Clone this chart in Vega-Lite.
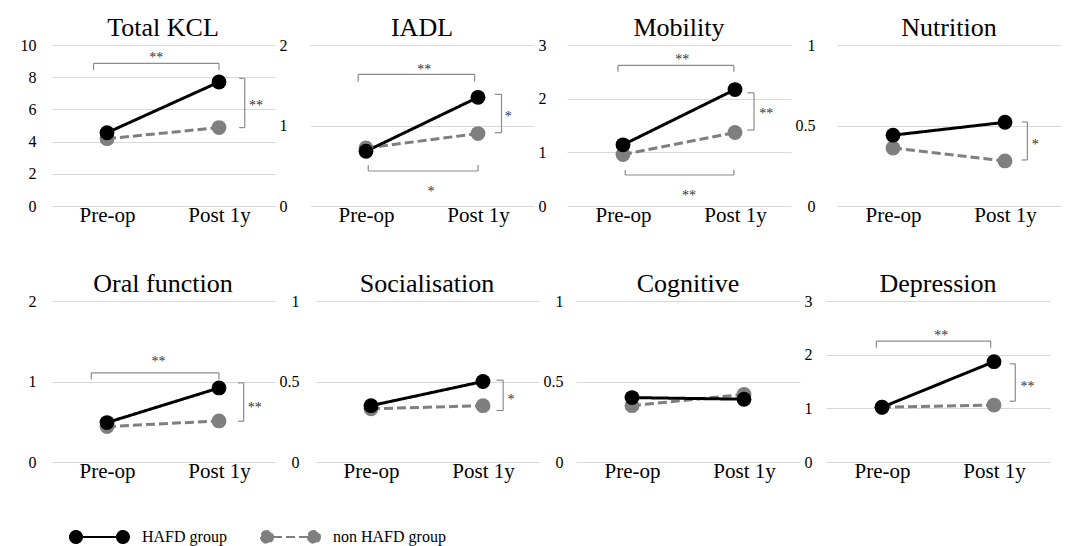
{
  "$schema": "https://vega.github.io/schema/vega-lite/v6.json",
  "padding": {"left": 20, "top": 15, "right": 0, "bottom": 0},
  "background": "#ffffff",
  "config": {
    "view": {"stroke": null},
    "font": "Liberation Serif",
    "title": {"font": "Liberation Serif", "fontSize": 26, "fontWeight": "normal", "color": "#000000", "offset": -4, "baseline": "bottom", "anchor": "middle"},
    "axisX": {"labelFont": "Liberation Serif", "labelColor": "#000000", "labelFontSize": 21, "labelAngle": 0, "labelPadding": -2, "grid": false, "ticks": false, "domain": false, "title": null},
    "legend": {"labelFont": "Liberation Serif", "labelFontSize": 16, "labelColor": "#000000"}
  },
  "datasets": {
    "scores": [
      {"panel": "Total KCL", "group": "non HAFD group", "time": "Pre-op", "value": 4.18},
      {"panel": "Total KCL", "group": "non HAFD group", "time": "Post 1y", "value": 4.87},
      {"panel": "Total KCL", "group": "HAFD group", "time": "Pre-op", "value": 4.55},
      {"panel": "Total KCL", "group": "HAFD group", "time": "Post 1y", "value": 7.70},
      {"panel": "IADL", "group": "non HAFD group", "time": "Pre-op", "value": 0.72},
      {"panel": "IADL", "group": "non HAFD group", "time": "Post 1y", "value": 0.90},
      {"panel": "IADL", "group": "HAFD group", "time": "Pre-op", "value": 0.68},
      {"panel": "IADL", "group": "HAFD group", "time": "Post 1y", "value": 1.35},
      {"panel": "Mobility", "group": "non HAFD group", "time": "Pre-op", "value": 0.96},
      {"panel": "Mobility", "group": "non HAFD group", "time": "Post 1y", "value": 1.37},
      {"panel": "Mobility", "group": "HAFD group", "time": "Pre-op", "value": 1.14},
      {"panel": "Mobility", "group": "HAFD group", "time": "Post 1y", "value": 2.17},
      {"panel": "Nutrition", "group": "non HAFD group", "time": "Pre-op", "value": 0.36},
      {"panel": "Nutrition", "group": "non HAFD group", "time": "Post 1y", "value": 0.28},
      {"panel": "Nutrition", "group": "HAFD group", "time": "Pre-op", "value": 0.44},
      {"panel": "Nutrition", "group": "HAFD group", "time": "Post 1y", "value": 0.52},
      {"panel": "Oral function", "group": "non HAFD group", "time": "Pre-op", "value": 0.44},
      {"panel": "Oral function", "group": "non HAFD group", "time": "Post 1y", "value": 0.51},
      {"panel": "Oral function", "group": "HAFD group", "time": "Pre-op", "value": 0.49},
      {"panel": "Oral function", "group": "HAFD group", "time": "Post 1y", "value": 0.92},
      {"panel": "Socialisation", "group": "non HAFD group", "time": "Pre-op", "value": 0.33},
      {"panel": "Socialisation", "group": "non HAFD group", "time": "Post 1y", "value": 0.35},
      {"panel": "Socialisation", "group": "HAFD group", "time": "Pre-op", "value": 0.35},
      {"panel": "Socialisation", "group": "HAFD group", "time": "Post 1y", "value": 0.50},
      {"panel": "Cognitive", "group": "non HAFD group", "time": "Pre-op", "value": 0.35},
      {"panel": "Cognitive", "group": "non HAFD group", "time": "Post 1y", "value": 0.42},
      {"panel": "Cognitive", "group": "HAFD group", "time": "Pre-op", "value": 0.40},
      {"panel": "Cognitive", "group": "HAFD group", "time": "Post 1y", "value": 0.39},
      {"panel": "Depression", "group": "non HAFD group", "time": "Pre-op", "value": 1.02},
      {"panel": "Depression", "group": "non HAFD group", "time": "Post 1y", "value": 1.06},
      {"panel": "Depression", "group": "HAFD group", "time": "Pre-op", "value": 1.02},
      {"panel": "Depression", "group": "HAFD group", "time": "Post 1y", "value": 1.87}
    ],
    "brackets": [
      {"panel": "Total KCL", "x": 0.88, "x2": 2.0, "y": 8.86, "y2": 8.86},
      {"panel": "Total KCL", "x": 0.88, "x2": 0.88, "y": 8.86, "y2": 8.45},
      {"panel": "Total KCL", "x": 2.0, "x2": 2.0, "y": 8.86, "y2": 8.45},
      {"panel": "Total KCL", "x": 2.23, "x2": 2.23, "y": 7.93, "y2": 4.87},
      {"panel": "Total KCL", "x": 2.18, "x2": 2.23, "y": 7.93, "y2": 7.93},
      {"panel": "Total KCL", "x": 2.18, "x2": 2.23, "y": 4.87, "y2": 4.87},
      {"panel": "IADL", "x": 0.93, "x2": 1.97, "y": 1.636, "y2": 1.636},
      {"panel": "IADL", "x": 0.93, "x2": 0.93, "y": 1.636, "y2": 1.545},
      {"panel": "IADL", "x": 1.97, "x2": 1.97, "y": 1.636, "y2": 1.545},
      {"panel": "IADL", "x": 2.21, "x2": 2.21, "y": 1.387, "y2": 0.911},
      {"panel": "IADL", "x": 2.15, "x2": 2.21, "y": 1.387, "y2": 1.387},
      {"panel": "IADL", "x": 2.15, "x2": 2.21, "y": 0.911, "y2": 0.911},
      {"panel": "IADL", "x": 1.02, "x2": 2.0, "y": 0.435, "y2": 0.435},
      {"panel": "IADL", "x": 1.02, "x2": 1.02, "y": 0.435, "y2": 0.509},
      {"panel": "IADL", "x": 2.0, "x2": 2.0, "y": 0.435, "y2": 0.509},
      {"panel": "Mobility", "x": 0.955, "x2": 1.99, "y": 2.62, "y2": 2.62},
      {"panel": "Mobility", "x": 0.955, "x2": 0.955, "y": 2.62, "y2": 2.5},
      {"panel": "Mobility", "x": 1.99, "x2": 1.99, "y": 2.62, "y2": 2.5},
      {"panel": "Mobility", "x": 2.17, "x2": 2.17, "y": 2.11, "y2": 1.416},
      {"panel": "Mobility", "x": 2.11, "x2": 2.17, "y": 2.11, "y2": 2.11},
      {"panel": "Mobility", "x": 2.11, "x2": 2.17, "y": 1.416, "y2": 1.416},
      {"panel": "Mobility", "x": 1.02, "x2": 1.99, "y": 0.578, "y2": 0.578},
      {"panel": "Mobility", "x": 1.02, "x2": 1.02, "y": 0.578, "y2": 0.67},
      {"panel": "Mobility", "x": 1.99, "x2": 1.99, "y": 0.578, "y2": 0.67},
      {"panel": "Nutrition", "x": 2.2, "x2": 2.2, "y": 0.522, "y2": 0.286},
      {"panel": "Nutrition", "x": 2.15, "x2": 2.2, "y": 0.522, "y2": 0.522},
      {"panel": "Nutrition", "x": 2.15, "x2": 2.2, "y": 0.286, "y2": 0.286},
      {"panel": "Oral function", "x": 0.86, "x2": 2.0, "y": 1.108, "y2": 1.108},
      {"panel": "Oral function", "x": 0.86, "x2": 0.86, "y": 1.108, "y2": 1.025},
      {"panel": "Oral function", "x": 2.0, "x2": 2.0, "y": 1.108, "y2": 1.025},
      {"panel": "Oral function", "x": 2.22, "x2": 2.22, "y": 0.983, "y2": 0.506},
      {"panel": "Oral function", "x": 2.17, "x2": 2.22, "y": 0.983, "y2": 0.983},
      {"panel": "Oral function", "x": 2.17, "x2": 2.22, "y": 0.506, "y2": 0.506},
      {"panel": "Socialisation", "x": 2.18, "x2": 2.18, "y": 0.508, "y2": 0.32},
      {"panel": "Socialisation", "x": 2.12, "x2": 2.18, "y": 0.508, "y2": 0.508},
      {"panel": "Socialisation", "x": 2.12, "x2": 2.18, "y": 0.32, "y2": 0.32},
      {"panel": "Depression", "x": 0.95, "x2": 1.97, "y": 2.253, "y2": 2.253},
      {"panel": "Depression", "x": 0.95, "x2": 0.95, "y": 2.253, "y2": 2.128},
      {"panel": "Depression", "x": 1.97, "x2": 1.97, "y": 2.253, "y2": 2.128},
      {"panel": "Depression", "x": 2.19, "x2": 2.19, "y": 1.83, "y2": 1.133},
      {"panel": "Depression", "x": 2.14, "x2": 2.19, "y": 1.83, "y2": 1.83},
      {"panel": "Depression", "x": 2.14, "x2": 2.19, "y": 1.133, "y2": 1.133}
    ],
    "stars": [
      {"panel": "Total KCL", "x": 1.44, "y": 9.42, "label": "**"},
      {"panel": "Total KCL", "x": 2.33, "y": 6.45, "label": "**"},
      {"panel": "IADL", "x": 1.52, "y": 1.74, "label": "**"},
      {"panel": "IADL", "x": 2.27, "y": 1.16, "label": "*"},
      {"panel": "IADL", "x": 1.58, "y": 0.228, "label": "*"},
      {"panel": "Mobility", "x": 1.53, "y": 2.8, "label": "**"},
      {"panel": "Mobility", "x": 2.28, "y": 1.78, "label": "**"},
      {"panel": "Mobility", "x": 1.59, "y": 0.26, "label": "**"},
      {"panel": "Nutrition", "x": 2.27, "y": 0.404, "label": "*"},
      {"panel": "Oral function", "x": 1.46, "y": 1.295, "label": "**"},
      {"panel": "Oral function", "x": 2.32, "y": 0.722, "label": "**"},
      {"panel": "Socialisation", "x": 2.25, "y": 0.409, "label": "*"},
      {"panel": "Depression", "x": 1.53, "y": 2.414, "label": "**"},
      {"panel": "Depression", "x": 2.3, "y": 1.475, "label": "**"}
    ]
  },
  "concat": [
    {
      "spacing": 4,
      "hconcat": [
        {
          "title": "Total KCL", "width": 224, "height": 161,
          "layer": [
            {
              "data": {"name": "scores"}, "transform": [{"filter": "datum.panel === 'Total KCL'"}],
              "encoding": {
                "x": {"field": "time", "type": "ordinal", "sort": ["Pre-op", "Post 1y"], "scale": {"type": "point", "padding": 0.5}, "axis": {"title": null}},
                "y": {"field": "value", "type": "quantitative", "scale": {"domain": [0, 10], "nice": false}, "axis": {"values": [0, 2, 4, 6, 8, 10], "format": "~r", "labelPadding": 15, "labelFont": "Liberation Serif", "labelFontSize": 16, "labelColor": "#000000", "grid": true, "gridColor": "#d9d9d9", "ticks": false, "domain": false, "title": null}},
                "color": {"field": "group", "type": "nominal", "scale": {"domain": ["HAFD group", "non HAFD group"], "range": ["#000000", "#7f7f7f"]}, "legend": {"title": " ", "titleOrient": "left", "titlePadding": 17, "titleFontSize": 16, "orient": "bottom", "offset": 48, "direction": "horizontal", "symbolType": "M-1,0A1,1,0,1,0,1,0A1,1,0,1,0,-1,0ZM1,0L6.83,0M6.83,0A1,1,0,1,0,8.83,0A1,1,0,1,0,6.83,0Z", "symbolSize": 144, "symbolStrokeWidth": 2, "labelOffset": 58, "columnPadding": 30, "encode": {"symbols": {"update": {"fill": {"scale": "color", "field": "value"}, "stroke": {"scale": "color", "field": "value"}}}}}},
                "strokeDash": {"field": "group", "type": "nominal", "scale": {"domain": ["HAFD group", "non HAFD group"], "range": [[1, 0], [9, 4]]}}
              },
              "layer": [
                {"mark": {"type": "line", "strokeWidth": 3}},
                {"mark": {"type": "point", "filled": true, "shape": "circle", "size": 220, "opacity": 1, "strokeDash": [1, 0]}}
              ]
            },
            {
              "layer": [
                {"data": {"name": "brackets"}, "transform": [{"filter": "datum.panel === 'Total KCL'"}], "mark": {"type": "rule", "color": "#8c8c8c", "strokeWidth": 1.2},
                 "encoding": {"x": {"field": "x", "type": "quantitative", "scale": {"domain": [0.5, 2.5]}, "axis": null}, "x2": {"field": "x2"}, "y": {"field": "y", "type": "quantitative", "scale": {"domain": [0, 10], "nice": false}, "axis": {"values": [0, 2, 4, 6, 8, 10], "format": "~r", "labelPadding": 15, "labelFont": "Liberation Serif", "labelFontSize": 16, "labelColor": "#000000", "grid": true, "gridColor": "#d9d9d9", "ticks": false, "domain": false, "title": null}}, "y2": {"field": "y2"}}},
                {"data": {"name": "stars"}, "transform": [{"filter": "datum.panel === 'Total KCL'"}], "mark": {"type": "text", "font": "Liberation Serif", "fontSize": 14, "color": "#333333", "baseline": "middle", "dy": 4},
                 "encoding": {"x": {"field": "x", "type": "quantitative", "scale": {"domain": [0.5, 2.5]}, "axis": null}, "y": {"field": "y", "type": "quantitative", "scale": {"domain": [0, 10], "nice": false}, "axis": {"values": [0, 2, 4, 6, 8, 10], "format": "~r", "labelPadding": 15, "labelFont": "Liberation Serif", "labelFontSize": 16, "labelColor": "#000000", "grid": true, "gridColor": "#d9d9d9", "ticks": false, "domain": false, "title": null}}, "text": {"field": "label"}}}
              ]
            }
          ],
          "resolve": {"scale": {"x": "independent"}}
        },
        {
          "title": "IADL", "width": 224, "height": 161,
          "layer": [
            {
              "data": {"name": "scores"}, "transform": [{"filter": "datum.panel === 'IADL'"}],
              "encoding": {
                "x": {"field": "time", "type": "ordinal", "sort": ["Pre-op", "Post 1y"], "scale": {"type": "point", "padding": 0.5}, "axis": {"title": null}},
                "y": {"field": "value", "type": "quantitative", "scale": {"domain": [0, 2], "nice": false}, "axis": {"values": [0, 1, 2], "format": "~r", "labelPadding": 23, "labelFont": "Liberation Serif", "labelFontSize": 16, "labelColor": "#000000", "grid": true, "gridColor": "#d9d9d9", "ticks": false, "domain": false, "title": null}},
                "color": {"field": "group", "type": "nominal", "scale": {"domain": ["HAFD group", "non HAFD group"], "range": ["#000000", "#7f7f7f"]}},
                "strokeDash": {"field": "group", "type": "nominal", "scale": {"domain": ["HAFD group", "non HAFD group"], "range": [[1, 0], [9, 4]]}}
              },
              "layer": [
                {"mark": {"type": "line", "strokeWidth": 3}},
                {"mark": {"type": "point", "filled": true, "shape": "circle", "size": 220, "opacity": 1, "strokeDash": [1, 0]}}
              ]
            },
            {
              "layer": [
                {"data": {"name": "brackets"}, "transform": [{"filter": "datum.panel === 'IADL'"}], "mark": {"type": "rule", "color": "#8c8c8c", "strokeWidth": 1.2},
                 "encoding": {"x": {"field": "x", "type": "quantitative", "scale": {"domain": [0.5, 2.5]}, "axis": null}, "x2": {"field": "x2"}, "y": {"field": "y", "type": "quantitative", "scale": {"domain": [0, 2], "nice": false}, "axis": {"values": [0, 1, 2], "format": "~r", "labelPadding": 23, "labelFont": "Liberation Serif", "labelFontSize": 16, "labelColor": "#000000", "grid": true, "gridColor": "#d9d9d9", "ticks": false, "domain": false, "title": null}}, "y2": {"field": "y2"}}},
                {"data": {"name": "stars"}, "transform": [{"filter": "datum.panel === 'IADL'"}], "mark": {"type": "text", "font": "Liberation Serif", "fontSize": 14, "color": "#333333", "baseline": "middle", "dy": 4},
                 "encoding": {"x": {"field": "x", "type": "quantitative", "scale": {"domain": [0.5, 2.5]}, "axis": null}, "y": {"field": "y", "type": "quantitative", "scale": {"domain": [0, 2], "nice": false}, "axis": {"values": [0, 1, 2], "format": "~r", "labelPadding": 23, "labelFont": "Liberation Serif", "labelFontSize": 16, "labelColor": "#000000", "grid": true, "gridColor": "#d9d9d9", "ticks": false, "domain": false, "title": null}}, "text": {"field": "label"}}}
              ]
            }
          ],
          "resolve": {"scale": {"x": "independent"}}
        },
        {
          "title": "Mobility", "width": 224, "height": 161,
          "layer": [
            {
              "data": {"name": "scores"}, "transform": [{"filter": "datum.panel === 'Mobility'"}],
              "encoding": {
                "x": {"field": "time", "type": "ordinal", "sort": ["Pre-op", "Post 1y"], "scale": {"type": "point", "padding": 0.5}, "axis": {"title": null}},
                "y": {"field": "value", "type": "quantitative", "scale": {"domain": [0, 3], "nice": false}, "axis": {"values": [0, 1, 2, 3], "format": "~r", "labelPadding": 21, "labelFont": "Liberation Serif", "labelFontSize": 16, "labelColor": "#000000", "grid": true, "gridColor": "#d9d9d9", "ticks": false, "domain": false, "title": null}},
                "color": {"field": "group", "type": "nominal", "scale": {"domain": ["HAFD group", "non HAFD group"], "range": ["#000000", "#7f7f7f"]}},
                "strokeDash": {"field": "group", "type": "nominal", "scale": {"domain": ["HAFD group", "non HAFD group"], "range": [[1, 0], [9, 4]]}}
              },
              "layer": [
                {"mark": {"type": "line", "strokeWidth": 3}},
                {"mark": {"type": "point", "filled": true, "shape": "circle", "size": 220, "opacity": 1, "strokeDash": [1, 0]}}
              ]
            },
            {
              "layer": [
                {"data": {"name": "brackets"}, "transform": [{"filter": "datum.panel === 'Mobility'"}], "mark": {"type": "rule", "color": "#8c8c8c", "strokeWidth": 1.2},
                 "encoding": {"x": {"field": "x", "type": "quantitative", "scale": {"domain": [0.5, 2.5]}, "axis": null}, "x2": {"field": "x2"}, "y": {"field": "y", "type": "quantitative", "scale": {"domain": [0, 3], "nice": false}, "axis": {"values": [0, 1, 2, 3], "format": "~r", "labelPadding": 21, "labelFont": "Liberation Serif", "labelFontSize": 16, "labelColor": "#000000", "grid": true, "gridColor": "#d9d9d9", "ticks": false, "domain": false, "title": null}}, "y2": {"field": "y2"}}},
                {"data": {"name": "stars"}, "transform": [{"filter": "datum.panel === 'Mobility'"}], "mark": {"type": "text", "font": "Liberation Serif", "fontSize": 14, "color": "#333333", "baseline": "middle", "dy": 4},
                 "encoding": {"x": {"field": "x", "type": "quantitative", "scale": {"domain": [0.5, 2.5]}, "axis": null}, "y": {"field": "y", "type": "quantitative", "scale": {"domain": [0, 3], "nice": false}, "axis": {"values": [0, 1, 2, 3], "format": "~r", "labelPadding": 21, "labelFont": "Liberation Serif", "labelFontSize": 16, "labelColor": "#000000", "grid": true, "gridColor": "#d9d9d9", "ticks": false, "domain": false, "title": null}}, "text": {"field": "label"}}}
              ]
            }
          ],
          "resolve": {"scale": {"x": "independent"}}
        },
        {
          "title": "Nutrition", "width": 224, "height": 161,
          "layer": [
            {
              "data": {"name": "scores"}, "transform": [{"filter": "datum.panel === 'Nutrition'"}],
              "encoding": {
                "x": {"field": "time", "type": "ordinal", "sort": ["Pre-op", "Post 1y"], "scale": {"type": "point", "padding": 0.5}, "axis": {"title": null}},
                "y": {"field": "value", "type": "quantitative", "scale": {"domain": [0, 1], "nice": false}, "axis": {"values": [0, 0.5, 1], "format": "~r", "labelPadding": 22, "labelFont": "Liberation Serif", "labelFontSize": 16, "labelColor": "#000000", "grid": true, "gridColor": "#d9d9d9", "ticks": false, "domain": false, "title": null}},
                "color": {"field": "group", "type": "nominal", "scale": {"domain": ["HAFD group", "non HAFD group"], "range": ["#000000", "#7f7f7f"]}},
                "strokeDash": {"field": "group", "type": "nominal", "scale": {"domain": ["HAFD group", "non HAFD group"], "range": [[1, 0], [9, 4]]}}
              },
              "layer": [
                {"mark": {"type": "line", "strokeWidth": 3}},
                {"mark": {"type": "point", "filled": true, "shape": "circle", "size": 220, "opacity": 1, "strokeDash": [1, 0]}}
              ]
            },
            {
              "layer": [
                {"data": {"name": "brackets"}, "transform": [{"filter": "datum.panel === 'Nutrition'"}], "mark": {"type": "rule", "color": "#8c8c8c", "strokeWidth": 1.2},
                 "encoding": {"x": {"field": "x", "type": "quantitative", "scale": {"domain": [0.5, 2.5]}, "axis": null}, "x2": {"field": "x2"}, "y": {"field": "y", "type": "quantitative", "scale": {"domain": [0, 1], "nice": false}, "axis": {"values": [0, 0.5, 1], "format": "~r", "labelPadding": 22, "labelFont": "Liberation Serif", "labelFontSize": 16, "labelColor": "#000000", "grid": true, "gridColor": "#d9d9d9", "ticks": false, "domain": false, "title": null}}, "y2": {"field": "y2"}}},
                {"data": {"name": "stars"}, "transform": [{"filter": "datum.panel === 'Nutrition'"}], "mark": {"type": "text", "font": "Liberation Serif", "fontSize": 14, "color": "#333333", "baseline": "middle", "dy": 4},
                 "encoding": {"x": {"field": "x", "type": "quantitative", "scale": {"domain": [0.5, 2.5]}, "axis": null}, "y": {"field": "y", "type": "quantitative", "scale": {"domain": [0, 1], "nice": false}, "axis": {"values": [0, 0.5, 1], "format": "~r", "labelPadding": 22, "labelFont": "Liberation Serif", "labelFontSize": 16, "labelColor": "#000000", "grid": true, "gridColor": "#d9d9d9", "ticks": false, "domain": false, "title": null}}, "text": {"field": "label"}}}
              ]
            }
          ],
          "resolve": {"scale": {"x": "independent"}}
        }
      ]
    },
    {
      "spacing": 4,
      "hconcat": [
        {
          "title": "Oral function", "width": 224, "height": 161,
          "layer": [
            {
              "data": {"name": "scores"}, "transform": [{"filter": "datum.panel === 'Oral function'"}],
              "encoding": {
                "x": {"field": "time", "type": "ordinal", "sort": ["Pre-op", "Post 1y"], "scale": {"type": "point", "padding": 0.5}, "axis": {"title": null}},
                "y": {"field": "value", "type": "quantitative", "scale": {"domain": [0, 2], "nice": false}, "axis": {"values": [0, 1, 2], "format": "~r", "labelPadding": 15, "labelFont": "Liberation Serif", "labelFontSize": 16, "labelColor": "#000000", "grid": true, "gridColor": "#d9d9d9", "ticks": false, "domain": false, "title": null}},
                "color": {"field": "group", "type": "nominal", "scale": {"domain": ["HAFD group", "non HAFD group"], "range": ["#000000", "#7f7f7f"]}},
                "strokeDash": {"field": "group", "type": "nominal", "scale": {"domain": ["HAFD group", "non HAFD group"], "range": [[1, 0], [9, 4]]}}
              },
              "layer": [
                {"mark": {"type": "line", "strokeWidth": 3}},
                {"mark": {"type": "point", "filled": true, "shape": "circle", "size": 220, "opacity": 1, "strokeDash": [1, 0]}}
              ]
            },
            {
              "layer": [
                {"data": {"name": "brackets"}, "transform": [{"filter": "datum.panel === 'Oral function'"}], "mark": {"type": "rule", "color": "#8c8c8c", "strokeWidth": 1.2},
                 "encoding": {"x": {"field": "x", "type": "quantitative", "scale": {"domain": [0.5, 2.5]}, "axis": null}, "x2": {"field": "x2"}, "y": {"field": "y", "type": "quantitative", "scale": {"domain": [0, 2], "nice": false}, "axis": {"values": [0, 1, 2], "format": "~r", "labelPadding": 15, "labelFont": "Liberation Serif", "labelFontSize": 16, "labelColor": "#000000", "grid": true, "gridColor": "#d9d9d9", "ticks": false, "domain": false, "title": null}}, "y2": {"field": "y2"}}},
                {"data": {"name": "stars"}, "transform": [{"filter": "datum.panel === 'Oral function'"}], "mark": {"type": "text", "font": "Liberation Serif", "fontSize": 14, "color": "#333333", "baseline": "middle", "dy": 4},
                 "encoding": {"x": {"field": "x", "type": "quantitative", "scale": {"domain": [0.5, 2.5]}, "axis": null}, "y": {"field": "y", "type": "quantitative", "scale": {"domain": [0, 2], "nice": false}, "axis": {"values": [0, 1, 2], "format": "~r", "labelPadding": 15, "labelFont": "Liberation Serif", "labelFontSize": 16, "labelColor": "#000000", "grid": true, "gridColor": "#d9d9d9", "ticks": false, "domain": false, "title": null}}, "text": {"field": "label"}}}
              ]
            }
          ],
          "resolve": {"scale": {"x": "independent"}}
        },
        {
          "title": "Socialisation", "width": 224, "height": 161,
          "layer": [
            {
              "data": {"name": "scores"}, "transform": [{"filter": "datum.panel === 'Socialisation'"}],
              "encoding": {
                "x": {"field": "time", "type": "ordinal", "sort": ["Pre-op", "Post 1y"], "scale": {"type": "point", "padding": 0.5}, "axis": {"title": null}},
                "y": {"field": "value", "type": "quantitative", "scale": {"domain": [0, 1], "nice": false}, "axis": {"values": [0, 0.5, 1], "format": "~r", "labelPadding": 16, "labelFont": "Liberation Serif", "labelFontSize": 16, "labelColor": "#000000", "grid": true, "gridColor": "#d9d9d9", "ticks": false, "domain": false, "title": null}},
                "color": {"field": "group", "type": "nominal", "scale": {"domain": ["HAFD group", "non HAFD group"], "range": ["#000000", "#7f7f7f"]}},
                "strokeDash": {"field": "group", "type": "nominal", "scale": {"domain": ["HAFD group", "non HAFD group"], "range": [[1, 0], [9, 4]]}}
              },
              "layer": [
                {"mark": {"type": "line", "strokeWidth": 3}},
                {"mark": {"type": "point", "filled": true, "shape": "circle", "size": 220, "opacity": 1, "strokeDash": [1, 0]}}
              ]
            },
            {
              "layer": [
                {"data": {"name": "brackets"}, "transform": [{"filter": "datum.panel === 'Socialisation'"}], "mark": {"type": "rule", "color": "#8c8c8c", "strokeWidth": 1.2},
                 "encoding": {"x": {"field": "x", "type": "quantitative", "scale": {"domain": [0.5, 2.5]}, "axis": null}, "x2": {"field": "x2"}, "y": {"field": "y", "type": "quantitative", "scale": {"domain": [0, 1], "nice": false}, "axis": {"values": [0, 0.5, 1], "format": "~r", "labelPadding": 16, "labelFont": "Liberation Serif", "labelFontSize": 16, "labelColor": "#000000", "grid": true, "gridColor": "#d9d9d9", "ticks": false, "domain": false, "title": null}}, "y2": {"field": "y2"}}},
                {"data": {"name": "stars"}, "transform": [{"filter": "datum.panel === 'Socialisation'"}], "mark": {"type": "text", "font": "Liberation Serif", "fontSize": 14, "color": "#333333", "baseline": "middle", "dy": 4},
                 "encoding": {"x": {"field": "x", "type": "quantitative", "scale": {"domain": [0.5, 2.5]}, "axis": null}, "y": {"field": "y", "type": "quantitative", "scale": {"domain": [0, 1], "nice": false}, "axis": {"values": [0, 0.5, 1], "format": "~r", "labelPadding": 16, "labelFont": "Liberation Serif", "labelFontSize": 16, "labelColor": "#000000", "grid": true, "gridColor": "#d9d9d9", "ticks": false, "domain": false, "title": null}}, "text": {"field": "label"}}}
              ]
            }
          ],
          "resolve": {"scale": {"x": "independent"}}
        },
        {
          "title": "Cognitive", "width": 224, "height": 161,
          "data": {"name": "scores"}, "transform": [{"filter": "datum.panel === 'Cognitive'"}],
          "encoding": {
            "x": {"field": "time", "type": "ordinal", "sort": ["Pre-op", "Post 1y"], "scale": {"type": "point", "padding": 0.5}, "axis": {"title": null}},
            "y": {"field": "value", "type": "quantitative", "scale": {"domain": [0, 1], "nice": false}, "axis": {"values": [0, 0.5, 1], "format": "~r", "labelPadding": 13, "labelFont": "Liberation Serif", "labelFontSize": 16, "labelColor": "#000000", "grid": true, "gridColor": "#d9d9d9", "ticks": false, "domain": false, "title": null}},
            "color": {"field": "group", "type": "nominal", "scale": {"domain": ["HAFD group", "non HAFD group"], "range": ["#000000", "#7f7f7f"]}},
            "strokeDash": {"field": "group", "type": "nominal", "scale": {"domain": ["HAFD group", "non HAFD group"], "range": [[1, 0], [9, 4]]}}
          },
          "layer": [
            {"mark": {"type": "line", "strokeWidth": 3}},
            {"mark": {"type": "point", "filled": true, "shape": "circle", "size": 220, "opacity": 1, "strokeDash": [1, 0]}}
          ]
        },
        {
          "title": "Depression", "width": 224, "height": 161,
          "layer": [
            {
              "data": {"name": "scores"}, "transform": [{"filter": "datum.panel === 'Depression'"}],
              "encoding": {
                "x": {"field": "time", "type": "ordinal", "sort": ["Pre-op", "Post 1y"], "scale": {"type": "point", "padding": 0.5}, "axis": {"title": null}},
                "y": {"field": "value", "type": "quantitative", "scale": {"domain": [0, 3], "nice": false}, "axis": {"values": [0, 1, 2, 3], "format": "~r", "labelPadding": 14, "labelFont": "Liberation Serif", "labelFontSize": 16, "labelColor": "#000000", "grid": true, "gridColor": "#d9d9d9", "ticks": false, "domain": false, "title": null}},
                "color": {"field": "group", "type": "nominal", "scale": {"domain": ["HAFD group", "non HAFD group"], "range": ["#000000", "#7f7f7f"]}},
                "strokeDash": {"field": "group", "type": "nominal", "scale": {"domain": ["HAFD group", "non HAFD group"], "range": [[1, 0], [9, 4]]}}
              },
              "layer": [
                {"mark": {"type": "line", "strokeWidth": 3}},
                {"mark": {"type": "point", "filled": true, "shape": "circle", "size": 220, "opacity": 1, "strokeDash": [1, 0]}}
              ]
            },
            {
              "layer": [
                {"data": {"name": "brackets"}, "transform": [{"filter": "datum.panel === 'Depression'"}], "mark": {"type": "rule", "color": "#8c8c8c", "strokeWidth": 1.2},
                 "encoding": {"x": {"field": "x", "type": "quantitative", "scale": {"domain": [0.5, 2.5]}, "axis": null}, "x2": {"field": "x2"}, "y": {"field": "y", "type": "quantitative", "scale": {"domain": [0, 3], "nice": false}, "axis": {"values": [0, 1, 2, 3], "format": "~r", "labelPadding": 14, "labelFont": "Liberation Serif", "labelFontSize": 16, "labelColor": "#000000", "grid": true, "gridColor": "#d9d9d9", "ticks": false, "domain": false, "title": null}}, "y2": {"field": "y2"}}},
                {"data": {"name": "stars"}, "transform": [{"filter": "datum.panel === 'Depression'"}], "mark": {"type": "text", "font": "Liberation Serif", "fontSize": 14, "color": "#333333", "baseline": "middle", "dy": 4},
                 "encoding": {"x": {"field": "x", "type": "quantitative", "scale": {"domain": [0.5, 2.5]}, "axis": null}, "y": {"field": "y", "type": "quantitative", "scale": {"domain": [0, 3], "nice": false}, "axis": {"values": [0, 1, 2, 3], "format": "~r", "labelPadding": 14, "labelFont": "Liberation Serif", "labelFontSize": 16, "labelColor": "#000000", "grid": true, "gridColor": "#d9d9d9", "ticks": false, "domain": false, "title": null}}, "text": {"field": "label"}}}
              ]
            }
          ],
          "resolve": {"scale": {"x": "independent"}}
        }
      ]
    }
  ],
  "columns": 1,
  "align": "none",
  "spacing": 46
}
